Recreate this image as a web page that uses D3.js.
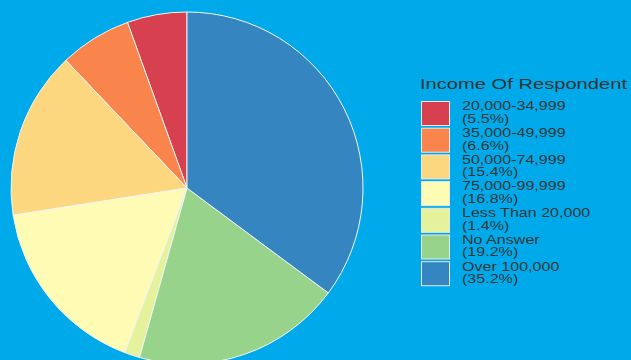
<!DOCTYPE html>
<html>
<head>
<meta charset="utf-8">
<script src="https://cdn.jsdelivr.net/npm/d3@7"></script>
<style>
  html, body { margin: 0; padding: 0; background: #00aaea; overflow: hidden; }
  svg { display: block; }
</style>
</head>
<body>
<svg id="chart" width="631" height="360"></svg>
<script>
// Income brackets (legend order) and their share of respondents (%)
const categories = ["20,000-34,999", "35,000-49,999", "50,000-74,999", "75,000-99,999", "Less Than 20,000", "No Answer", "Over 100,000"];
const shares = [5.5, 6.6, 15.4, 16.8, 1.4, 19.2, 35.2];
const colors = ["#d6404f", "#f9844c", "#fdd77f", "#fefbb4", "#e4f29b", "#98d38c", "#3585c0"];
const legendTitle = "Income Of Respondent";

const svg = d3.select("#chart");
const W = 631, H = 360;
svg.append("rect").attr("width", W).attr("height", H).attr("fill", "#00aaea");

const cx = 187, cy = 188, radius = 176;

const color = d3.scaleOrdinal().domain(categories).range(colors);

const data = categories.map((c, i) => ({ cat: c, value: shares[i] }));

// Slices run counter-clockwise from 12 o'clock in legend order
const pie = d3.pie()
  .sort(null)
  .value(d => d.value)
  .startAngle(0)
  .endAngle(-2 * Math.PI);

const arc = d3.arc().innerRadius(0).outerRadius(radius);

const g = svg.append("g").attr("transform", `translate(${cx},${cy})`);
g.selectAll("path")
  .data(pie(data))
  .join("path")
  .attr("d", arc)
  .attr("fill", d => color(d.data.cat))
  .attr("stroke", "#f4f4f4")
  .attr("stroke-width", 1);

// Legend (text is drawn wide, stretched horizontally)
const lx = 421, ly = 101, rowH = 26.7, stretch = 1.34;
const font = "Liberation Sans, Arial, sans-serif";
const legend = svg.append("g").attr("transform", `translate(${lx},${ly})`);

legend.append("text")
  .attr("x", -1)
  .attr("y", -11.7)
  .attr("font-family", font)
  .attr("font-size", 14.5)
  .attr("fill", "#333")
  .attr("textLength", 207)
  .attr("lengthAdjust", "spacingAndGlyphs")
  .text(legendTitle);

const rows = legend.selectAll("g.row")
  .data(data)
  .join("g")
  .attr("class", "row")
  .attr("transform", (d, i) => `translate(0,${i * rowH})`);

rows.append("rect")
  .attr("x", 0.5).attr("y", 0.5)
  .attr("width", 28).attr("height", 24)
  .attr("fill", d => color(d.cat))
  .attr("stroke", "#e8e8e8")
  .attr("stroke-width", 1);

const label = rows.append("text")
  .attr("transform", `translate(41,0) scale(${stretch},1)`)
  .attr("font-family", font)
  .attr("font-size", 12)
  .attr("fill", "#363636");

label.append("tspan").attr("x", 0).attr("y", 9.3).text(d => d.cat);
label.append("tspan").attr("x", 0).attr("y", 22).text(d => `(${d.value}%)`);
</script>
</body>
</html>
